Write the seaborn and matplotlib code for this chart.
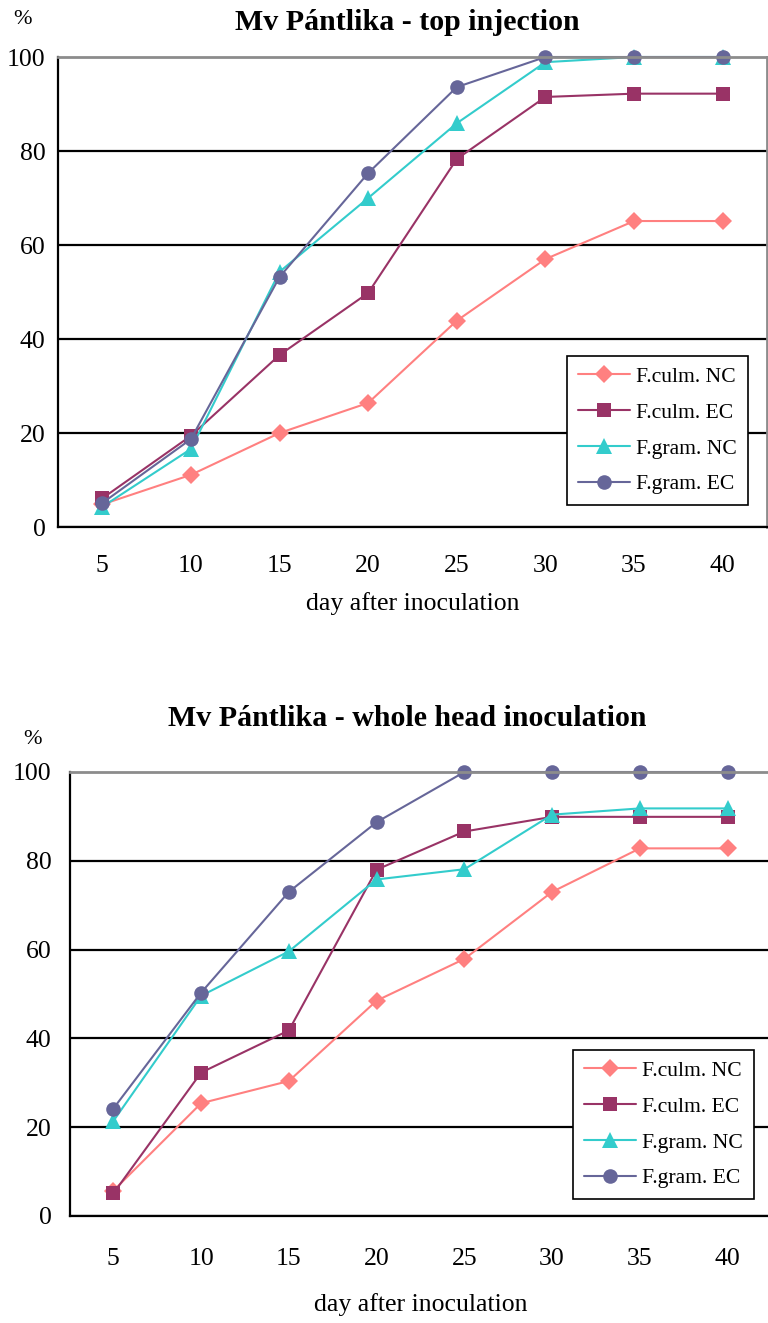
import matplotlib.pyplot as plt
import seaborn as sns
import pandas as pd

# category axis
days = ['5', '10', '15', '20', '25', '30', '35', '40']
series_names = ['F.culm. NC', 'F.culm. EC', 'F.gram. NC', 'F.gram. EC']

# top injection (%)
top_culm_nc = [4.8, 11.1, 20.0, 26.4, 43.9, 57.0, 65.1, 65.1]
top_culm_ec = [6.1, 19.4, 36.6, 49.8, 78.3, 91.5, 92.2, 92.2]
top_gram_nc = [4.3, 16.6, 54.3, 70.0, 85.9, 98.9, 100, 100]
top_gram_ec = [5.1, 18.7, 53.2, 75.3, 93.6, 100, 100, 100]

# whole head inoculation (%)
whole_culm_nc = [5.7, 25.4, 30.4, 48.5, 57.9, 73.0, 82.8, 82.8]
whole_culm_ec = [5.1, 32.3, 41.8, 78.0, 86.6, 89.9, 89.9, 89.9]
whole_gram_nc = [21.4, 49.6, 59.6, 75.8, 78.1, 90.4, 91.8, 91.8]
whole_gram_ec = [24.2, 50.3, 73.0, 88.7, 100, 100, 100, 100]

colors = ['#FF8080', '#993366', '#33CCCC', '#666699']
markers = ['D', 's', '^', 'o']
msizes = [9, 10, 11, 10.5]


def long_table(values):
    rows = []
    for name, vals in zip(series_names, values):
        for i, v in enumerate(vals):
            rows.append({'pos': i, 'day': days[i], 'value': v, 'series': name})
    return pd.DataFrame(rows)


def draw_panel(fig, rect, values, title, title_y, pct_xy, xlabel_y,
               legend_xy, xtick_pad, ytick_pad):
    ax = fig.add_axes(rect)
    df = long_table(values)
    for name, col, mk, ms in zip(series_names, colors, markers, msizes):
        sub = df[df['series'] == name]
        sns.lineplot(data=sub, x='pos', y='value', ax=ax, color=col,
                     marker=mk, markersize=ms, markeredgewidth=0,
                     linewidth=1.5, label=name, clip_on=False)

    ax.set_xlim(-0.5, len(days) - 0.5)
    ax.set_ylim(0, 100)
    ax.set_yticks(range(0, 101, 20))
    ax.set_xticks([i - 0.5 for i in range(len(days) + 1)])
    ax.set_xticklabels([])
    ax.set_xticks(range(len(days)), minor=True)
    ax.set_xticklabels(days, minor=True)
    ax.tick_params(axis='x', which='major', direction='out', length=7,
                   width=1.5, color='black')
    ax.tick_params(axis='x', which='minor', length=0, pad=xtick_pad,
                   labelsize=18.5, labelcolor='black')
    ax.tick_params(axis='y', direction='out', length=6, width=1.5,
                   color='black', pad=ytick_pad, labelsize=18.5,
                   labelcolor='black')
    ax.set_xlabel('')
    ax.set_ylabel('')

    ax.grid(axis='y', color='black', linewidth=1.6)
    ax.yaxis.get_gridlines()[-1].set_visible(False)
    ax.set_axisbelow(True)

    for side in ['left', 'bottom']:
        ax.spines[side].set_color('black')
        ax.spines[side].set_linewidth(1.6)
    for side in ['top', 'right']:
        ax.spines[side].set_color('#8C8C8C')
        ax.spines[side].set_linewidth(2.0)

    leg = ax.legend(loc='upper left', bbox_to_anchor=legend_xy,
                    bbox_transform=fig.transFigure, fontsize=15.6,
                    frameon=True, fancybox=False, framealpha=1,
                    edgecolor='black', handlelength=2.4, labelspacing=0.72,
                    borderpad=0.5, handletextpad=0.3, borderaxespad=0)
    leg.get_frame().set_linewidth(1.2)
    for t in leg.get_texts():
        t.set_color('black')

    fig.text(0.53, title_y, title, ha='center', va='center',
             fontsize=21.5, fontweight='bold', color='black')
    fig.text(pct_xy[0], pct_xy[1], '%', ha='center', va='center',
             fontsize=16, color='black')
    fig.text((rect[0] + rect[0] + rect[2]) / 2, xlabel_y,
             'day after inoculation', ha='center', va='center',
             fontsize=18.5, color='black')
    return ax


fig = plt.figure(figsize=(7.68, 13.23), dpi=100)
sns.set_style('white')
plt.rcParams['font.family'] = ['Liberation Serif', 'DejaVu Serif']

H = 1323.0
W = 768.0

draw_panel(fig, [58 / W, 1 - 527 / H, 709 / W, 470 / H],
           [top_culm_nc, top_culm_ec, top_gram_nc, top_gram_ec],
           'Mv Pántlika - top injection', 1 - 22 / H, (22 / W, 1 - 20 / H),
           1 - 604 / H, (567 / W, 1 - 356 / H), 20, 3)

draw_panel(fig, [69.5 / W, 1 - 1216 / H, 702 / W, 444 / H],
           [whole_culm_nc, whole_culm_ec, whole_gram_nc, whole_gram_ec],
           'Mv Pántlika - whole head inoculation', 1 - 719 / H,
           (33 / W, 1 - 739 / H), 1 - 1305 / H, (573 / W, 1 - 1050 / H), 23, 7)

plt.savefig('out.png', dpi=100)
plt.close(fig)
